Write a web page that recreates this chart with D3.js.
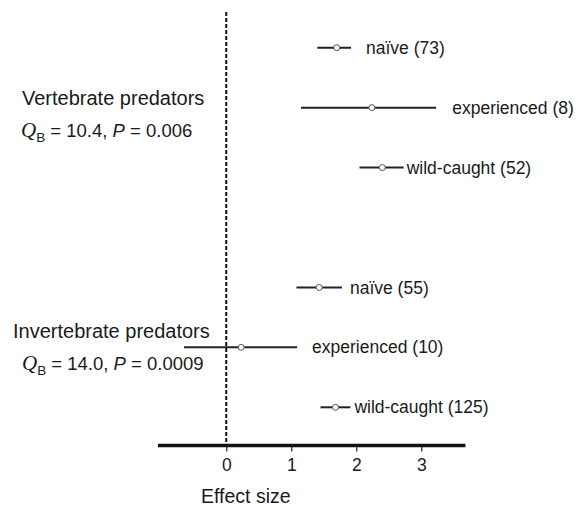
<!DOCTYPE html>
<html>
<head>
<meta charset="utf-8">
<script src="https://cdn.jsdelivr.net/npm/d3@7"></script>
<style>
  body { margin: 0; background: #fff; }
  text { font-family: "Liberation Sans", Arial, sans-serif; fill: #1a1a1a; }
</style>
</head>
<body>
<div id="chart-area"></div>
<script>

// data
var groups = ["Vertebrate predators", "Invertebrate predators"];
var groupQB = ["10.4", "14.0"];
var groupP = ["0.006", "0.0009"];

var categories = ["naïve", "experienced", "wild-caught", "naïve", "experienced", "wild-caught"];
var sampleSizes = [73, 8, 52, 55, 10, 125];
var groupOf = [0, 0, 0, 1, 1, 1];
var means = [1.70, 2.24, 2.40, 1.43, 0.23, 1.68];
var lower = [1.40, 1.15, 2.05, 1.08, -0.65, 1.45];
var upper = [1.92, 3.23, 2.73, 1.78, 1.09, 1.91];
var tickValues = [0, 1, 2, 3];

// layout
var total_width = 578, total_height = 506;
var rowIndex = [0, 1, 2, 4, 5, 6];
var labelPad = [15, 16, 3, 8, 15, 4];

var svg = d3.select('#chart-area').append('svg')
            .attr("width", total_width)
            .attr("height", total_height);

var x = d3.scaleLinear().domain([-1.05, 3.68]).range([158, 465.45]);
var y = d3.scaleLinear().domain([0, 6]).range([47.7, 407.3]);
var axisY = 445.5;

// zero reference line
svg.append("line")
   .attr("x1", x(0)).attr("x2", x(0))
   .attr("y1", 12).attr("y2", axisY)
   .attr("stroke", "#111")
   .attr("stroke-width", 2)
   .attr("stroke-dasharray", "4,2");

// x axis
var xAxis = d3.axisBottom(x).tickValues(tickValues).tickSize(6).tickPadding(7).tickFormat(d3.format("d"));
var gx = svg.append("g")
            .attr("transform", "translate(0," + axisY + ")")
            .call(xAxis);
gx.select(".domain").remove();
gx.selectAll(".tick line").attr("stroke", "#333").attr("stroke-width", 1.3);
gx.selectAll(".tick text")
  .attr("font-family", "Liberation Sans, Arial, sans-serif")
  .attr("font-size", "17.5px")
  .attr("fill", "#1a1a1a");
svg.append("line")
   .attr("x1", x.range()[0]).attr("x2", x.range()[1])
   .attr("y1", axisY).attr("y2", axisY)
   .attr("stroke", "#111")
   .attr("stroke-width", 3.6);

svg.append("text")
   .attr("x", 201)
   .attr("y", 503)
   .attr("font-size", "19.5px")
   .text("Effect size");

// group labels
var groupLabelY = [[98, 131], [331, 364]];
var groupLabelX = [[22, 21], [13, 22]];
groups.forEach(function(g, i) {
    svg.append("text")
       .attr("x", groupLabelX[i][0])
       .attr("y", groupLabelY[i][0])
       .attr("dy", "0.35em")
       .attr("font-size", "20px")
       .text(g);
    var stat = svg.append("text")
       .attr("x", groupLabelX[i][1])
       .attr("y", groupLabelY[i][1])
       .attr("dy", "0.35em")
       .attr("font-size", "18.5px");
    stat.append("tspan")
        .attr("font-family", "Liberation Serif, Times New Roman, serif")
        .attr("font-style", "italic")
        .attr("font-size", "21px")
        .text("Q");
    stat.append("tspan")
        .attr("font-size", "13.5px")
        .attr("dy", "5")
        .text("B");
    stat.append("tspan")
        .attr("dy", "-5")
        .text(" = " + groupQB[i] + ", ");
    stat.append("tspan")
        .attr("font-style", "italic")
        .text("P");
    stat.append("tspan")
        .text(" = " + groupP[i]);
});

// confidence intervals
var rows = categories.map(function(c, i) {
    return {cat: c, n: sampleSizes[i], mean: means[i], lo: lower[i], hi: upper[i], row: rowIndex[i], pad: labelPad[i]};
});

svg.selectAll(".ci").data(rows).enter().append("line")
   .attr("class", "ci")
   .attr("x1", function(d) { return x(d.lo); })
   .attr("x2", function(d) { return x(d.hi); })
   .attr("y1", function(d) { return y(d.row); })
   .attr("y2", function(d) { return y(d.row); })
   .attr("stroke", "#222")
   .attr("stroke-width", 2);

svg.selectAll(".pt").data(rows).enter().append("circle")
   .attr("class", "pt")
   .attr("cx", function(d) { return x(d.mean); })
   .attr("cy", function(d) { return y(d.row); })
   .attr("r", 3)
   .attr("fill", "#fff")
   .attr("stroke", "#555")
   .attr("stroke-width", 1);

svg.selectAll(".lab").data(rows).enter().append("text")
   .attr("class", "lab")
   .attr("x", function(d) { return x(d.hi) + d.pad; })
   .attr("y", function(d) { return y(d.row); })
   .attr("dy", "0.35em")
   .attr("font-size", "17.5px")
   .text(function(d) { return d.cat + " (" + d.n + ")"; });

</script>
</body>
</html>
